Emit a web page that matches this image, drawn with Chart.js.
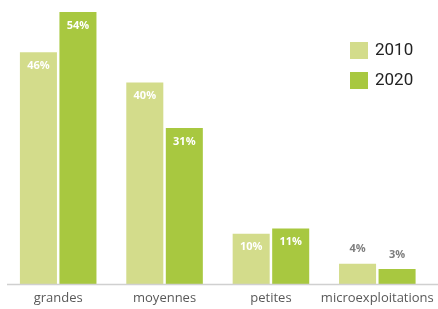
<!DOCTYPE html>
<html><head><meta charset="utf-8">
<script src="https://cdn.jsdelivr.net/npm/chart.js@4"></script>
<style>html,body{margin:0;padding:0;background:#fff}#wrap{width:438px;height:309px;position:relative}</style>
</head><body><div id="wrap"><canvas id="c" width="438" height="309"></canvas></div>
<script>
const categories = ["grandes", "moyennes", "petites", "microexploitations"];
const seriesNames = ["2010", "2020"];
const values2010 = [46, 40, 10, 4];
const values2020 = [54, 31, 11, 3];
const colors = ["#d3dc8b", "#a8c840"];

const labelPlugin = {
  id: 'barLabels',
  afterDatasetsDraw(chart) {
    const ctx = chart.ctx;
    ctx.save();
    ctx.font = "bold 11px 'Open Sans'";
    ctx.textAlign = 'center';
    ctx.textBaseline = 'middle';
    chart.data.datasets.forEach((ds, i) => {
      const meta = chart.getDatasetMeta(i);
      meta.data.forEach((bar, j) => {
        const v = ds.data[j];
        const h = bar.base - bar.y;
        const txt = v + '%';
        if (h > 30) {
          ctx.fillStyle = '#ffffff';
          ctx.fillText(txt, bar.x, bar.y + 13.5);
        } else {
          ctx.fillStyle = '#7f7f7f';
          ctx.fillText(txt, bar.x, bar.y - 14.5);
        }
      });
    });
    ctx.restore();
  }
};

const legendPlugin = {
  id: 'customLegend',
  afterDraw(chart) {
    const ctx = chart.ctx;
    ctx.save();
    const yb = chart.scales.y.getPixelForValue(0);
    ctx.strokeStyle = '#d0d0d0';
    ctx.lineWidth = 1.5;
    ctx.beginPath();
    ctx.moveTo(7, yb + 0.5);
    ctx.lineTo(438, yb + 0.5);
    ctx.stroke();
    ctx.font = "17px Roboto";
    ctx.textBaseline = 'middle';
    ctx.textAlign = 'left';
    seriesNames.forEach((name, i) => {
      const y = 42 + i * 30;
      ctx.fillStyle = colors[i];
      ctx.fillRect(350, y, 18, 17);
      ctx.fillStyle = '#222222';
      ctx.fillText(name, 375, y + 9);
    });
    ctx.restore();
  }
};

new Chart(document.getElementById('c'), {
  type: 'bar',
  data: {
    labels: categories,
    datasets: [
      { label: seriesNames[0], data: values2010, backgroundColor: colors[0], categoryPercentage: 0.743, barPercentage: 0.937 },
      { label: seriesNames[1], data: values2020, backgroundColor: colors[1], categoryPercentage: 0.743, barPercentage: 0.937 }
    ]
  },
  options: {
    responsive: false,
    animation: false,
    layout: { padding: { left: 5, right: 7.5, top: 2, bottom: 0 } },
    plugins: { legend: { display: false }, tooltip: { enabled: false } },
    scales: {
      x: {
        grid: { display: false, drawTicks: false },
        border: { display: false },
        ticks: { color: '#595959', font: { family: "'Open Sans'", size: 13 }, padding: 6, maxRotation: 0, autoSkip: false },
        afterFit(scale) { scale.paddingLeft = 0; scale.paddingRight = 0; scale.height = 25; }
      },
      y: { display: false, min: 0, max: 56 }
    }
  },
  plugins: [labelPlugin, legendPlugin]
});
</script></body></html>
